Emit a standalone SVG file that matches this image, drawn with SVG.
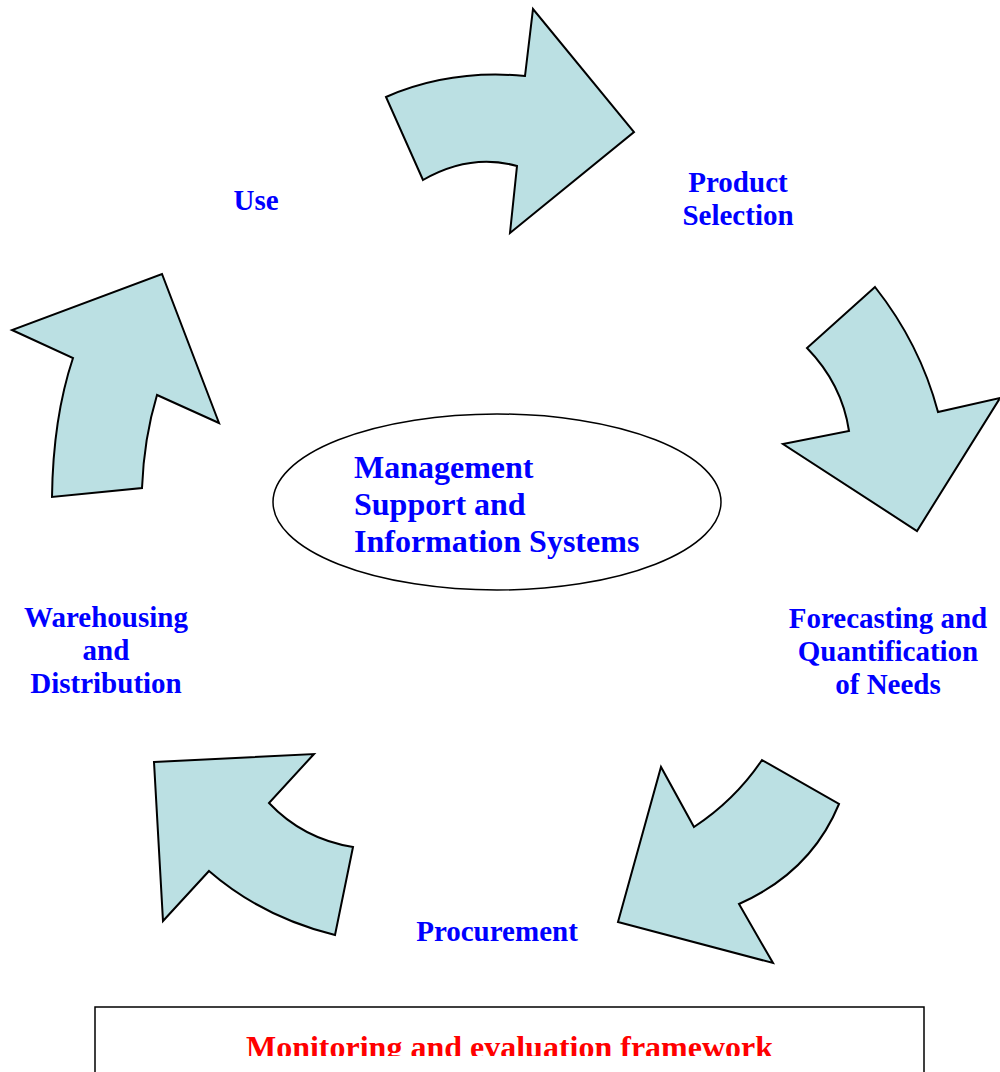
<svg xmlns="http://www.w3.org/2000/svg" width="1000" height="1072" viewBox="0 0 1000 1072">
  <style>
    .arrow { fill: #BBE0E3; stroke: #000; stroke-width: 2; stroke-linejoin: miter; }
    .label { font-family: "Liberation Serif", "Times New Roman", serif; font-weight: bold; font-size: 29px; fill: #0000FF; text-anchor: middle; }
    .core { font-family: "Liberation Serif", "Times New Roman", serif; font-weight: bold; font-size: 32px; fill: #0000FF; }
    .frame { font-family: "Liberation Serif", "Times New Roman", serif; font-weight: bold; font-size: 32px; fill: #FF0000; text-anchor: middle; }
  </style>
  <defs>
    <clipPath id="frameClip">
      <rect x="95" y="1007" width="829" height="49"/>
    </clipPath>
  </defs>
  <rect width="1000" height="1072" fill="#FFFFFF"/>

  <!-- curved cycle arrows -->
  <g id="connectors">
    <path class="arrow" d="M386,97 Q450,69 525,76 L533,9 L634,132 L510,233 L517,166 Q470,153 423,180 Z"/>
    <path class="arrow" d="M875,287 L807,348 Q842,384 849,431 L783,444 L917,531 L1000,398 L938,412 Q920,344 875,287 Z"/>
    <path class="arrow" d="M762,760 L839,804 Q811,872 739,904 L773,963 L618,922 L661,767 L694,827 Q735,800 762,760 Z"/>
    <path class="arrow" d="M154,762 L314,754 L269,803 Q303,839 353,847 L335,935 Q262,917 209,871 L163,921 Z"/>
    <path class="arrow" d="M52,497 Q53,418 73,358 L12,330 L162,274 L219,423 L157,395 Q144,438 142,488 Z"/>
  </g>

  <g id="core">
    <ellipse cx="497" cy="502" rx="224" ry="88" fill="#FFFFFF" stroke="#000" stroke-width="1.5"/>
    <text class="core" x="354" y="478">Management</text>
    <text class="core" x="354" y="515">Support and</text>
    <text class="core" x="354" y="552">Information Systems</text>
  </g>

  <g id="product-selection">
    <text class="label" x="738" y="192">Product</text>
    <text class="label" x="738" y="225">Selection</text>
  </g>

  <g id="forecasting">
    <text class="label" x="888" y="628">Forecasting and</text>
    <text class="label" x="888" y="661">Quantification</text>
    <text class="label" x="888" y="694">of Needs</text>
  </g>

  <g id="procurement">
    <text class="label" x="497" y="941">Procurement</text>
  </g>

  <g id="warehousing">
    <text class="label" x="106" y="627">Warehousing</text>
    <text class="label" x="106" y="660">and</text>
    <text class="label" x="106" y="693">Distribution</text>
  </g>

  <g id="use">
    <text class="label" x="256" y="210">Use</text>
  </g>

  <g id="monitoring">
    <rect x="95" y="1007" width="829" height="80" fill="none" stroke="#000" stroke-width="1.5"/>
    <text class="frame" x="509.5" y="1058" clip-path="url(#frameClip)">Monitoring and evaluation framework</text>
  </g>
</svg>
